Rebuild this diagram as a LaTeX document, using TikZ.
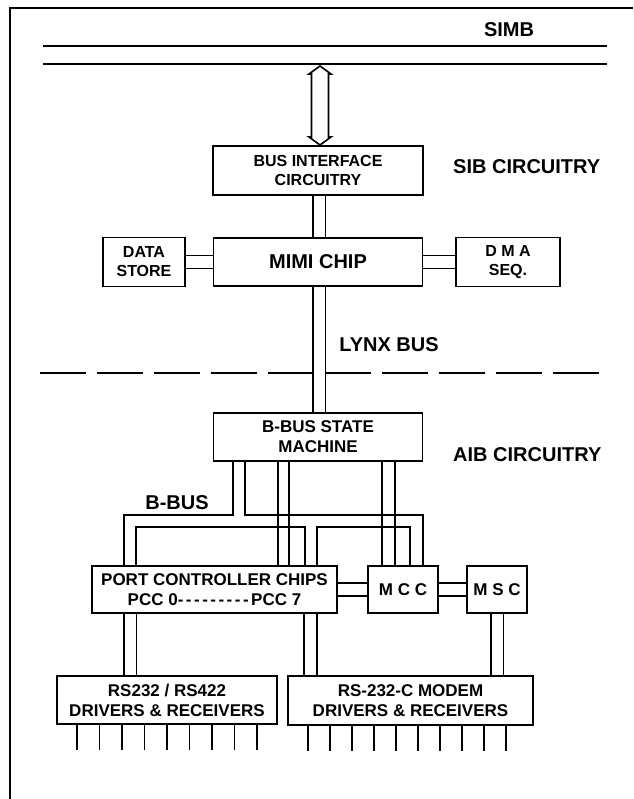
\documentclass[tikz,border=0pt]{standalone}
\usepackage{fontspec}
\setmainfont{Liberation Sans}
\usetikzlibrary{backgrounds}

\newcommand\pccdashes{\foreach \i in {1,...,9}{-\kern2.5pt}}

\begin{document}
\begin{tikzpicture}[x=1pt,y=-1pt,
    box/.style={draw, line width=1.6pt, inner sep=0pt, align=center,
      font=\fontsize{17}{20}\selectfont\bfseries},
    smallbox/.style={box, font=\fontsize{16}{19}\selectfont\bfseries},
    bigbox/.style={box, font=\fontsize{20}{24}\selectfont\bfseries},
    lbl/.style={inner sep=0pt, font=\fontsize{20}{24}\selectfont\bfseries},
    pipe/.style={double, double distance=11pt, line width=1.7pt},
    wire/.style={line width=1.6pt}]
  \useasboundingbox (0,0) rectangle (633,799);

  \draw[line width=1.5pt] (10,799) -- (10,8) -- (633,8);
  \draw[wire] (43,46) -- (607,46);
  \draw[wire] (43,64) -- (607,64);
  \node[lbl] (simb) at (509,30) {SIMB};

  \node[smallbox, minimum width=210, minimum height=49] (bif) at (318,170.5) {BUS INTERFACE\\CIRCUITRY};
  \node[lbl, anchor=west] (sib) at (453,167) {SIB CIRCUITRY};
  \node[bigbox, minimum width=209, minimum height=48] (mimi) at (318,262) {MIMI CHIP};
  \node[smallbox, minimum width=82, minimum height=49] (store) at (144,262) {DATA\\STORE};
  \node[smallbox, minimum width=104, minimum height=49] (dma) at (508,262) {D M A\\SEQ.};
  \node[lbl] (lynx) at (389,345) {LYNX BUS};

  \node[box, minimum width=209, minimum height=48] (bbsm) at (318,437) {B-BUS STATE\\MACHINE};
  \node[lbl, anchor=west] (aib) at (453,455) {AIB CIRCUITRY};
  \node[lbl] (bbus) at (177,503) {B-BUS};

  \node[box, minimum width=245, minimum height=47] (pcc) at (214.5,589.5) {PORT CONTROLLER CHIPS\\PCC 0\pccdashes PCC 7};
  \node[box, minimum width=70, minimum height=47] (mcc) at (403,589.5) {M C C};
  \node[box, minimum width=60, minimum height=47] (msc) at (497,589.5) {M S C};

  \node[box, minimum width=220, minimum height=48] (rs422) at (167,700) {RS232 / RS422\\DRIVERS \& RECEIVERS};
  \node[box, minimum width=245, minimum height=49] (modem) at (410.5,700.5) {RS-232-C MODEM\\DRIVERS \& RECEIVERS};

  \draw[wire, line join=miter] (320,66) -- (331,74) -- (328.5,74) -- (328.5,137) -- (331,137) -- (320,145)
    -- (309,137) -- (311.5,137) -- (311.5,74) -- (309,74) -- cycle;

  \begin{scope}[on background layer]
    \draw[wire, dash pattern=on 46pt off 11pt] (40,373) -- (608,373);
    \draw[pipe] (bif.south -| 319,0) -- (mimi.north -| 319,0);
    \draw[pipe] (mimi.south -| 319,0) -- (bbsm.north -| 319,0);
    \draw[pipe] (store.east) -- (mimi.west);
    \draw[pipe] (mimi.east) -- (dma.west);
    \draw[pipe] (pcc.east) -- (pcc.east -| mcc.west);
    \draw[pipe] (mcc.east) -- (mcc.east -| msc.west);
    \draw[pipe] (pcc.south -| 130,0) -- (rs422.north -| 130,0);
    \draw[pipe] (pcc.south -| 310.5,0) -- (modem.north -| 310.5,0);
    \draw[pipe] (msc.south) -- (msc.south |- modem.north);
  \end{scope}

  \draw[wire] (bbsm.south -| 233,0) |- (124,515) -- (124,0 |- pcc.north);
  \draw[wire] (bbsm.south -| 245,0) |- (423,515) -- (423,0 |- mcc.north);
  \draw[wire] (136,0 |- pcc.north) |- (305,527) -- (305,0 |- pcc.north);
  \draw[wire] (317,0 |- pcc.north) |- (410,527) -- (410,0 |- mcc.north);
  \foreach \x in {278,289} \draw[wire] (bbsm.south -| \x,0) -- (\x,0 |- pcc.north);
  \foreach \x in {382,395} \draw[wire] (bbsm.south -| \x,0) -- (\x,0 |- mcc.north);

  \foreach \x in {77,99.5,...,257} \draw[wire] (rs422.south -| \x,0) -- ++(0,25);
  \foreach \x in {308,330,...,506} \draw[wire] (modem.south -| \x,0) -- ++(0,25);
\end{tikzpicture}
\end{document}
